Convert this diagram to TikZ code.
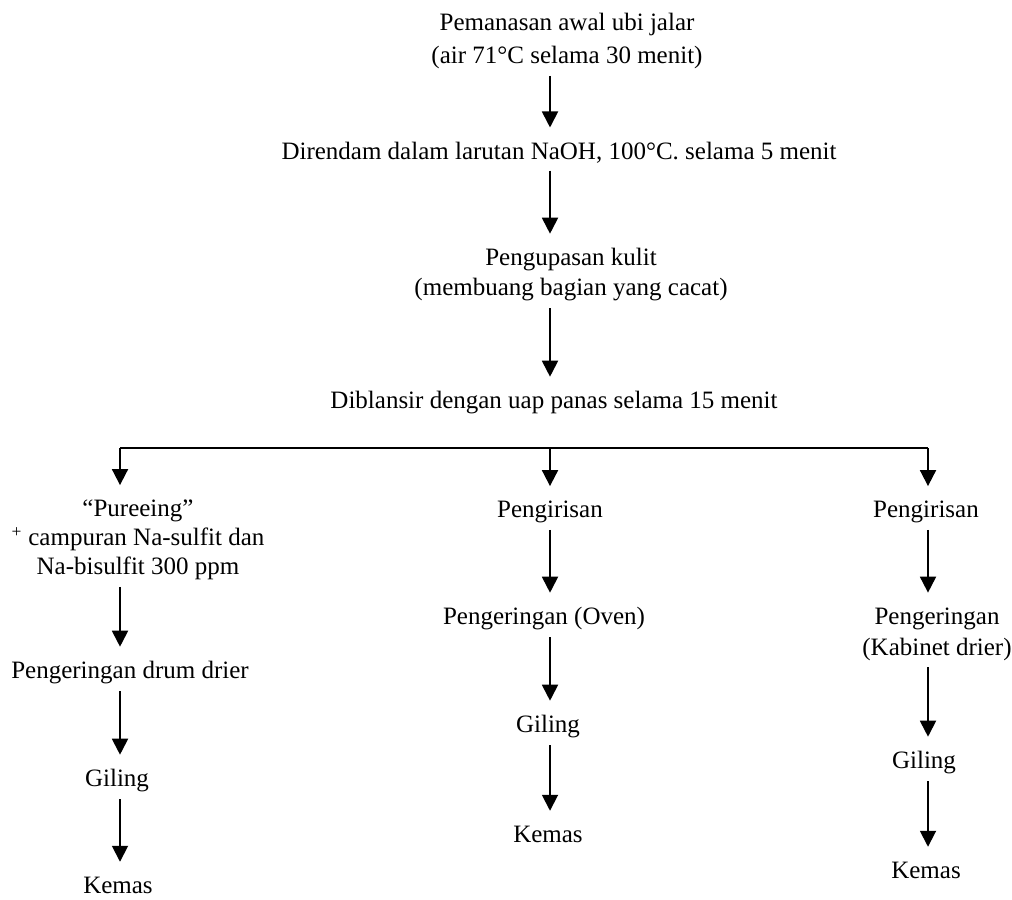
\documentclass[tikz,border=0pt]{standalone}
\usepackage{fontspec}
\setmainfont{Liberation Serif}
\usetikzlibrary{arrows.meta}

\begin{document}
\begin{tikzpicture}[x=0.75pt,y=-0.75pt,
  lbl/.style={draw=none,inner sep=0pt,align=center,font=\fontsize{18.75}{22.5}\selectfont},
  arr/.style={line width=1.4pt,-{Triangle[length=12pt,width=12pt]},shorten <=5pt,shorten >=11pt}]
  \useasboundingbox (0,0) rectangle (1012,899);

  % columns
  \coordinate (cL) at (120,0);
  \coordinate (cM) at (550,0);
  \coordinate (cR) at (928,0);
  \coordinate (bus) at (550,448);

  % main line
  \node[lbl,font=\fontsize{18.75}{24.75}\selectfont] (awal) at (567,41) {Pemanasan awal ubi jalar\\(air 71°C selama 30 menit)};
  \node[lbl] (rendam) at (559,153) {Direndam dalam larutan NaOH, 100°C. selama 5 menit};
  \node[lbl] (kupas) at (571,275) {Pengupasan kulit\\(membuang bagian yang cacat)};
  \node[lbl] (blansir) at (554,403) {Diblansir dengan uap panas selama 15 menit};

  % left branch
  \node[lbl,font=\fontsize{18.75}{21.75}\selectfont] (puree) at (138,540) {``Pureeing''\\\textsuperscript{+} campuran Na-sulfit dan\\Na-bisulfit 300 ppm};
  \node[lbl] (drum) at (130,673) {Pengeringan drum drier};
  \node[lbl] (gilingL) at (117,781) {Giling};
  \node[lbl] (kemasL) at (118,885) {Kemas};

  % middle branch
  \node[lbl] (irisM) at (550,512) {Pengirisan};
  \node[lbl] (oven) at (544,619) {Pengeringan (Oven)};
  \node[lbl] (gilingM) at (548,727) {Giling};
  \node[lbl] (kemasM) at (548,834) {Kemas};

  % right branch
  \node[lbl] (irisR) at (926,512) {Pengirisan};
  \node[lbl,font=\fontsize{18.75}{23.25}\selectfont] (kabinet) at (937,634) {Pengeringan\\(Kabinet drier)};
  \node[lbl] (gilingR) at (924,763) {Giling};
  \node[lbl] (kemasR) at (926,870) {Kemas};

  \draw[arr] (awal.south -| cM) -- (rendam.north -| cM);
  \draw[arr] (rendam.south -| cM) -- (kupas.north -| cM);
  \draw[arr] (kupas.south -| cM) -- (blansir.north -| cM);

  \draw[line width=1.4pt] (bus -| cL) -- (bus -| cR);
  \draw[arr,shorten <=0pt] (bus -| cL) -- (puree.north -| cL);
  \draw[arr,shorten <=0pt] (bus -| cM) -- (irisM.north -| cM);
  \draw[arr,shorten <=0pt] (bus -| cR) -- (irisR.north -| cR);

  \draw[arr] (puree.south -| cL) -- (drum.north -| cL);
  \draw[arr] (drum.south -| cL) -- (gilingL.north -| cL);
  \draw[arr] (gilingL.south -| cL) -- (kemasL.north -| cL);

  \draw[arr] (irisM.south -| cM) -- (oven.north -| cM);
  \draw[arr] (oven.south -| cM) -- (gilingM.north -| cM);
  \draw[arr] (gilingM.south -| cM) -- (kemasM.north -| cM);

  \draw[arr] (irisR.south -| cR) -- (kabinet.north -| cR);
  \draw[arr] (kabinet.south -| cR) -- (gilingR.north -| cR);
  \draw[arr] (gilingR.south -| cR) -- (kemasR.north -| cR);
\end{tikzpicture}
\end{document}
